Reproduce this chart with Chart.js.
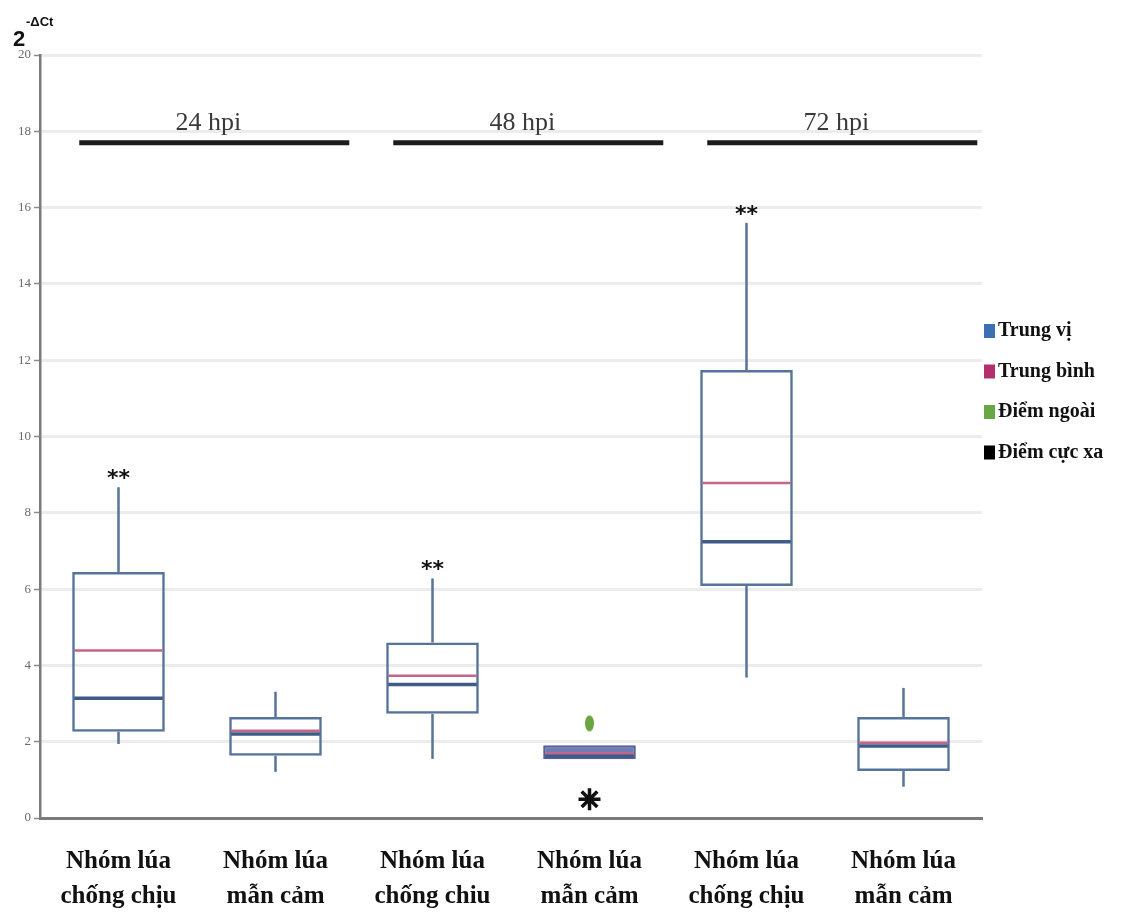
<!DOCTYPE html>
<html>
<head>
<meta charset="utf-8">
<script src="https://cdn.jsdelivr.net/npm/chart.js@4.4.1/dist/chart.umd.min.js"></script>
<style>
    body { margin: 0; background: #fff; }
    #wrap { width: 1134px; height: 916px; }
</style>
</head>
<body>
<div id="wrap"><canvas id="boxChart" width="1134" height="916"></canvas></div>
<script>
// Values (2^-ΔCt)
const categories = [
    ['Nhóm lúa', 'chống chịu'],
    ['Nhóm lúa', 'mẫn cảm'],
    ['Nhóm lúa', 'chống chiu'],
    ['Nhóm lúa', 'mẫn cảm'],
    ['Nhóm lúa', 'chống chịu'],
    ['Nhóm lúa', 'mẫn cảm']
];
const q1 = [2.26, 1.63, 2.73, 1.54, 6.08, 1.23];
const q3 = [6.45, 2.65, 4.60, 1.91, 11.74, 2.65];
const medians = [3.14, 2.20, 3.50, 1.62, 7.24, 1.89];
const means = [4.39, 2.29, 3.73, 1.70, 8.78, 1.97];
const whiskerLow = [1.94, 1.21, 1.55, null, 3.68, 0.82];
const whiskerHigh = [8.67, 3.31, 6.28, null, 15.6, 3.41];
const outliers = [null, null, null, 2.48, null, null];
const extremes = [null, null, null, 0.49, null, null];
const significance = ['**', '', '**', '', '**', ''];
const groupLabels = ['24 hpi', '48 hpi', '72 hpi'];
const yTicks = [0, 2, 4, 6, 8, 10, 12, 14, 16, 18, 20];
const legendLabels = ['Trung vị', 'Trung bình', 'Điểm ngoài', 'Điểm cực xa'];
const legendColors = ['#3d70b2', '#b3306f', '#69a644', '#000000'];

const boxBorder = '#56739a';
const medianColor = '#3f5b86';
const meanColor = '#c4658a';

// green outlier marker is a small upright oval
const outlierDot = document.createElement('canvas');
outlierDot.width = 11;
outlierDot.height = 18;
(function() {
    const c = outlierDot.getContext('2d');
    c.fillStyle = '#6aa53f';
    c.beginPath();
    c.ellipse(5.5, 9, 4.5, 8, 0, 0, Math.PI * 2);
    c.fill();
})();

const boxExtras = {
    id: 'boxExtras',
    afterDatasetsDraw(chart) {
        const ctx = chart.ctx;
        const x = chart.scales.x;
        const y = chart.scales.y;
        const meta = chart.getDatasetMeta(0);
        const area = chart.chartArea;

        ctx.save();
        categories.forEach(function(cat, i) {
            const bar = meta.data[i];
            const cx = bar.x;
            const half = bar.width / 2;

            // whiskers
            ctx.strokeStyle = boxBorder;
            ctx.lineWidth = 2.5;
            if (whiskerHigh[i] !== null) {
                ctx.beginPath();
                ctx.moveTo(cx, y.getPixelForValue(q3[i]));
                ctx.lineTo(cx, y.getPixelForValue(whiskerHigh[i]));
                ctx.stroke();
            }
            if (whiskerLow[i] !== null) {
                ctx.beginPath();
                ctx.moveTo(cx, y.getPixelForValue(q1[i]));
                ctx.lineTo(cx, y.getPixelForValue(whiskerLow[i]));
                ctx.stroke();
            }

            // mean then median
            ctx.strokeStyle = meanColor;
            ctx.lineWidth = 2.5;
            ctx.beginPath();
            ctx.moveTo(cx - half + 2, y.getPixelForValue(means[i]));
            ctx.lineTo(cx + half - 2, y.getPixelForValue(means[i]));
            ctx.stroke();

            ctx.strokeStyle = medianColor;
            ctx.lineWidth = 3.5;
            ctx.beginPath();
            ctx.moveTo(cx - half + 2, y.getPixelForValue(medians[i]));
            ctx.lineTo(cx + half - 2, y.getPixelForValue(medians[i]));
            ctx.stroke();

            // significance stars
            if (significance[i]) {
                ctx.fillStyle = '#111';
                ctx.font = 'bold 22px "DejaVu Sans"';
                ctx.textAlign = 'center';
                ctx.textBaseline = 'middle';
                ctx.fillText(significance[i], cx, y.getPixelForValue(whiskerHigh[i]) - 8);
            }
        });

        // time point headers with black bars
        const step = x.getPixelForValue(1) - x.getPixelForValue(0);
        groupLabels.forEach(function(label, g) {
            const left = x.getPixelForValue(g * 2) - step * 0.25;
            const right = x.getPixelForValue(g * 2 + 1) + step * 0.47;
            const lineY = y.getPixelForValue(17.7);
            ctx.strokeStyle = '#1c1c1c';
            ctx.lineWidth = 5;
            ctx.beginPath();
            ctx.moveTo(left, lineY);
            ctx.lineTo(right, lineY);
            ctx.stroke();
            ctx.fillStyle = '#3a3a3a';
            ctx.font = '26px "Liberation Serif"';
            ctx.textAlign = 'center';
            ctx.textBaseline = 'alphabetic';
            ctx.fillText(label, (left + right) / 2 - 6, lineY - 13);
        });

        // legend on the right
        ctx.textAlign = 'left';
        ctx.textBaseline = 'middle';
        ctx.font = 'bold 20px "Liberation Serif"';
        legendLabels.forEach(function(label, k) {
            const ly = 331 + k * 40.5;
            ctx.fillStyle = legendColors[k];
            ctx.fillRect(area.right + 2, ly - 7, 11, 14);
            ctx.fillStyle = '#111';
            ctx.fillText(label, area.right + 16, ly);
        });

        // y axis title 2^-ΔCt
        ctx.fillStyle = '#111';
        ctx.textBaseline = 'alphabetic';
        ctx.font = 'bold 22px "Liberation Sans"';
        ctx.fillText('2', 13, 46);
        ctx.font = 'bold 13px "Liberation Sans"';
        ctx.fillText('-ΔCt', 26, 26);
        ctx.restore();
    }
};

new Chart(document.getElementById('boxChart'), {
    type: 'bar',
    data: {
        labels: categories,
        datasets: [{
            label: 'box',
            data: q1.map(function(v, i) { return [v, q3[i]]; }),
            backgroundColor: q1.map(function(v, i) { return i === 3 ? '#6f7cb3' : 'rgba(255,255,255,0)'; }),
            borderColor: q1.map(function(v, i) { return i === 3 ? '#56609a' : boxBorder; }),
            borderWidth: 2.5,
            borderSkipped: false,
            barPercentage: 0.59,
            categoryPercentage: 1,
            order: 2
        }, {
            type: 'line',
            label: 'Điểm ngoài',
            data: outliers,
            showLine: false,
            pointStyle: outlierDot,
            order: 1
        }, {
            type: 'line',
            label: 'Điểm cực xa',
            data: extremes,
            showLine: false,
            pointStyle: 'star',
            pointRadius: 11,
            borderColor: '#111',
            borderWidth: 3.5,
            order: 1
        }]
    },
    options: {
        responsive: false,
        animation: false,
        layout: { padding: { top: 55, right: 152, bottom: 0, left: 0 } },
        plugins: {
            legend: { display: false },
            tooltip: { enabled: false }
        },
        scales: {
            x: {
                grid: { display: false },
                border: { display: true, color: '#7b7b7b', width: 3 },
                ticks: {
                    color: '#111',
                    padding: 18,
                    maxRotation: 0,
                    font: { family: 'Liberation Serif', weight: 'bold', size: 25, lineHeight: 1.4 }
                },
                afterFit: function(scale) { scale.height = 98; }
            },
            y: {
                min: 0,
                max: 20,
                afterBuildTicks: function(scale) {
                    scale.ticks = yTicks.map(function(v) { return { value: v }; });
                },
                grid: { color: '#ececec', lineWidth: 3, tickLength: 6, tickColor: '#8a8a8a', tickWidth: 1.5 },
                border: { display: true, color: '#7b7b7b', width: 2.5 },
                ticks: {
                    color: '#6a6a6a',
                    padding: 3,
                    font: { family: 'Liberation Serif', size: 13 }
                },
                afterFit: function(scale) { scale.width = 40; }
            }
        }
    },
    plugins: [boxExtras]
});
</script>
</body>
</html>
